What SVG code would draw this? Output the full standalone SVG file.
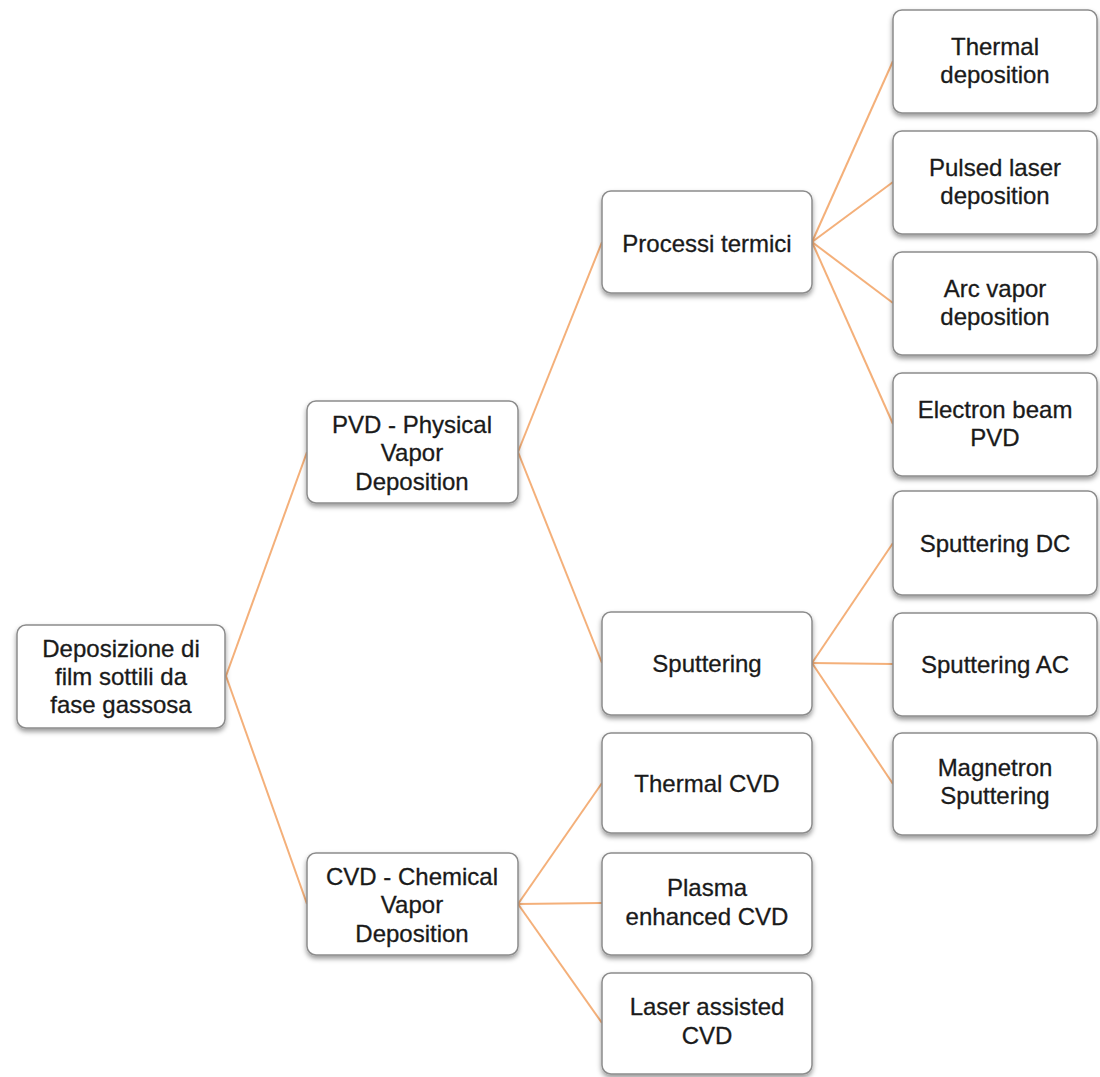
<svg xmlns="http://www.w3.org/2000/svg" width="1100" height="1077" viewBox="0 0 1100 1077">
<defs>
<filter id="sh" x="-10%" y="-10%" width="125%" height="130%">
<feDropShadow dx="0" dy="3" stdDeviation="2.5" flood-color="#000" flood-opacity="0.4"/>
</filter>
</defs>
<style>
.box{fill:#fff;stroke:#8c8c8c;stroke-width:1.5;filter:url(#sh)}
.t{font-family:"Liberation Sans",Arial,sans-serif;font-size:24px;fill:#1a1a1a;text-anchor:middle;stroke:#1a1a1a;stroke-width:0.3}
.c{stroke:#f4b07a;stroke-width:2;fill:none}
</style>
<rect width="1100" height="1077" fill="#fff"/>
<g id="connectors">
<line class="c" x1="226" y1="676" x2="307" y2="452"/>
<line class="c" x1="226" y1="676" x2="307" y2="904"/>
<line class="c" x1="518" y1="452" x2="602" y2="242"/>
<line class="c" x1="518" y1="452" x2="602" y2="663"/>
<line class="c" x1="812" y1="242" x2="893" y2="61"/>
<line class="c" x1="812" y1="242" x2="893" y2="182"/>
<line class="c" x1="812" y1="242" x2="893" y2="303"/>
<line class="c" x1="812" y1="242" x2="893" y2="424"/>
<line class="c" x1="812" y1="663" x2="893" y2="543"/>
<line class="c" x1="812" y1="663" x2="893" y2="664"/>
<line class="c" x1="812" y1="663" x2="893" y2="784"/>
<line class="c" x1="518" y1="904" x2="602" y2="783"/>
<line class="c" x1="518" y1="904" x2="602" y2="903"/>
<line class="c" x1="518" y1="904" x2="602" y2="1023"/>
</g>
<g id="root">
<rect class="box" x="17" y="625" width="208" height="103" rx="9"/>
<text class="t" x="121" y="657">Deposizione di</text>
<text class="t" x="121" y="685">film sottili da</text>
<text class="t" x="121" y="713">fase gassosa</text>
</g>
<g id="pvd">
<rect class="box" x="307" y="401" width="211" height="102" rx="9"/>
<text class="t" x="412" y="433">PVD - Physical</text>
<text class="t" x="412" y="461">Vapor</text>
<text class="t" x="412" y="490">Deposition</text>
</g>
<g id="cvd">
<rect class="box" x="307" y="853" width="211" height="102" rx="9"/>
<text class="t" x="412" y="885">CVD - Chemical</text>
<text class="t" x="412" y="913">Vapor</text>
<text class="t" x="412" y="942">Deposition</text>
</g>
<g id="processi">
<rect class="box" x="602" y="191" width="210" height="102" rx="9"/>
<text class="t" x="707" y="252">Processi termici</text>
</g>
<g id="sputtering">
<rect class="box" x="602" y="612" width="210" height="103" rx="9"/>
<text class="t" x="707" y="672">Sputtering</text>
</g>
<g id="thermalcvd">
<rect class="box" x="602" y="733" width="210" height="100" rx="9"/>
<text class="t" x="707" y="792">Thermal CVD</text>
</g>
<g id="plasma">
<rect class="box" x="602" y="853" width="210" height="102" rx="9"/>
<text class="t" x="707" y="896">Plasma</text>
<text class="t" x="707" y="925">enhanced CVD</text>
</g>
<g id="laser">
<rect class="box" x="602" y="973" width="210" height="101" rx="9"/>
<text class="t" x="707" y="1015">Laser assisted</text>
<text class="t" x="707" y="1044">CVD</text>
</g>
<g id="thermaldep">
<rect class="box" x="893" y="10" width="204" height="103" rx="9"/>
<text class="t" x="995" y="55">Thermal</text>
<text class="t" x="995" y="83">deposition</text>
</g>
<g id="pulsed">
<rect class="box" x="893" y="131" width="204" height="103" rx="9"/>
<text class="t" x="995" y="176">Pulsed laser</text>
<text class="t" x="995" y="204">deposition</text>
</g>
<g id="arc">
<rect class="box" x="893" y="252" width="204" height="103" rx="9"/>
<text class="t" x="995" y="297">Arc vapor</text>
<text class="t" x="995" y="325">deposition</text>
</g>
<g id="ebeam">
<rect class="box" x="893" y="373" width="204" height="103" rx="9"/>
<text class="t" x="995" y="418">Electron beam</text>
<text class="t" x="995" y="446">PVD</text>
</g>
<g id="spdc">
<rect class="box" x="893" y="491" width="204" height="104" rx="9"/>
<text class="t" x="995" y="552">Sputtering DC</text>
</g>
<g id="spac">
<rect class="box" x="893" y="613" width="204" height="103" rx="9"/>
<text class="t" x="995" y="673">Sputtering AC</text>
</g>
<g id="magnetron">
<rect class="box" x="893" y="733" width="204" height="102" rx="9"/>
<text class="t" x="995" y="776">Magnetron</text>
<text class="t" x="995" y="804">Sputtering</text>
</g>
</svg>
